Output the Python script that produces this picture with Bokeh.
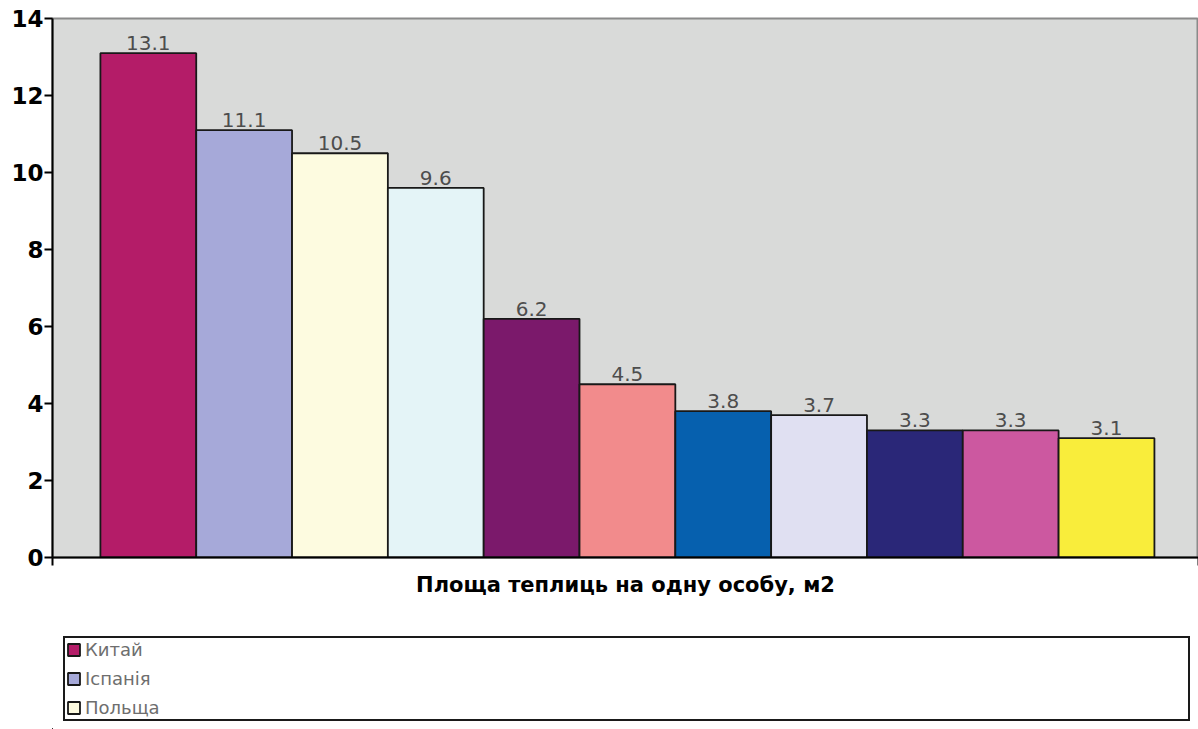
from bokeh.plotting import figure
from bokeh.layouts import column
from bokeh.models import ColumnDataSource, Range1d, FixedTicker, Legend, LegendItem, LabelSet
from bokeh.core.properties import value
from bokeh.embed import file_html
from bokeh.resources import INLINE

# ---- data ----
values = [13.1, 11.1, 10.5, 9.6, 6.2, 4.5, 3.8, 3.7, 3.3, 3.3, 3.1]
colors = ["#b41c68", "#a6a9d9", "#fdfbe0", "#e4f4f7", "#7b196b", "#f28b8c",
          "#0660ae", "#e0e0f2", "#2a2778", "#cc58a0", "#f9ed3b"]
legend_names = ["Китай", "Іспанія", "Польща"]   # visible legend entries
y_ticks = [0, 2, 4, 6, 8, 10, 12, 14]
axis_title = "Площа теплиць на одну особу, м2"

positions = list(range(len(values)))
labels = [f"{v:.1f}" for v in values]

src = ColumnDataSource(dict(x=positions, top=values, color=colors, label=labels))

X0, X1 = -1.0, 10.96

# ---------------- main chart ----------------
p = figure(width=1198, height=620, output_backend="svg", toolbar_location=None,
           x_range=Range1d(X0, X1), y_range=Range1d(0, 14),
           min_border_left=52, min_border_right=0, min_border_top=18,
           min_border_bottom=63)

p.background_fill_color = "#d9dad9"
p.border_fill_color = "white"
p.outline_line_color = "#8a8a8a"
p.outline_line_width = 2
p.xgrid.visible = False
p.ygrid.visible = False

r = p.vbar(x="x", top="top", bottom=0, width=1.0, fill_color="color",
           line_color="#181818", line_width=1.8, source=src)

lbl = LabelSet(x="x", y="top", text="label", source=src, y_offset=3,
               text_align="center", text_baseline="bottom",
               text_font=value("DejaVu Sans"), text_font_size="20px",
               text_color="#4d4d4d")
p.add_layout(lbl)

ya = p.yaxis[0]
ya.ticker = FixedTicker(ticks=y_ticks)
ya.axis_line_color = "black"
ya.axis_line_width = 2
ya.major_tick_line_color = "black"
ya.major_tick_line_width = 2
ya.major_tick_out = 8
ya.major_tick_in = 0
ya.minor_tick_line_color = None
ya.major_label_standoff = 1
ya.major_label_text_font = "DejaVu Sans"
ya.major_label_text_font_style = "bold"
ya.major_label_text_font_size = "23px"
ya.major_label_text_color = "black"

xa = p.xaxis[0]
xa.ticker = FixedTicker(ticks=[], minor_ticks=[X0, X1])
xa.axis_line_color = "black"
xa.axis_line_width = 2
xa.major_tick_line_color = None
xa.minor_tick_line_color = "black"
xa.minor_tick_line_width = 2
xa.minor_tick_out = 8
xa.minor_tick_in = 0
xa.axis_label = axis_title
xa.axis_label_standoff = 7
xa.axis_label_text_font = "DejaVu Sans"
xa.axis_label_text_font_style = "bold"
xa.axis_label_text_font_size = "21px"
xa.axis_label_text_color = "black"

# ---------------- legend strip ----------------
q = figure(width=1198, height=109, output_backend="svg", toolbar_location=None,
           x_range=Range1d(1000, 1001), y_range=Range1d(1000, 1001),
           min_border_left=52, min_border_right=0, min_border_top=0,
           min_border_bottom=0)
q.axis.visible = False
q.grid.visible = False
q.outline_line_color = None
q.background_fill_color = "white"
q.border_fill_color = "white"
r2 = q.vbar(x="x", top="top", bottom=0, width=1.0, fill_color="color",
            line_color="#181818", line_width=1.8, source=src)

items = [LegendItem(label=c, renderers=[r2], index=i) for i, c in enumerate(legend_names)]
legend = Legend(items=items, location=(11, 8), orientation="vertical",
                border_line_color="#1a1a1a", border_line_width=2.5,
                border_line_alpha=1.0,
                background_fill_color="white", background_fill_alpha=1.0,
                padding=1, spacing=8, glyph_width=15, glyph_height=15,
                label_standoff=4, label_text_font="DejaVu Sans",
                label_text_font_size="18px", label_text_color="#6e6e6e",
                label_height=20, label_width=1102, margin=0)
q.add_layout(legend)

layout = column(p, q, spacing=0)
open("out.html", "w").write(file_html(layout, INLINE))
